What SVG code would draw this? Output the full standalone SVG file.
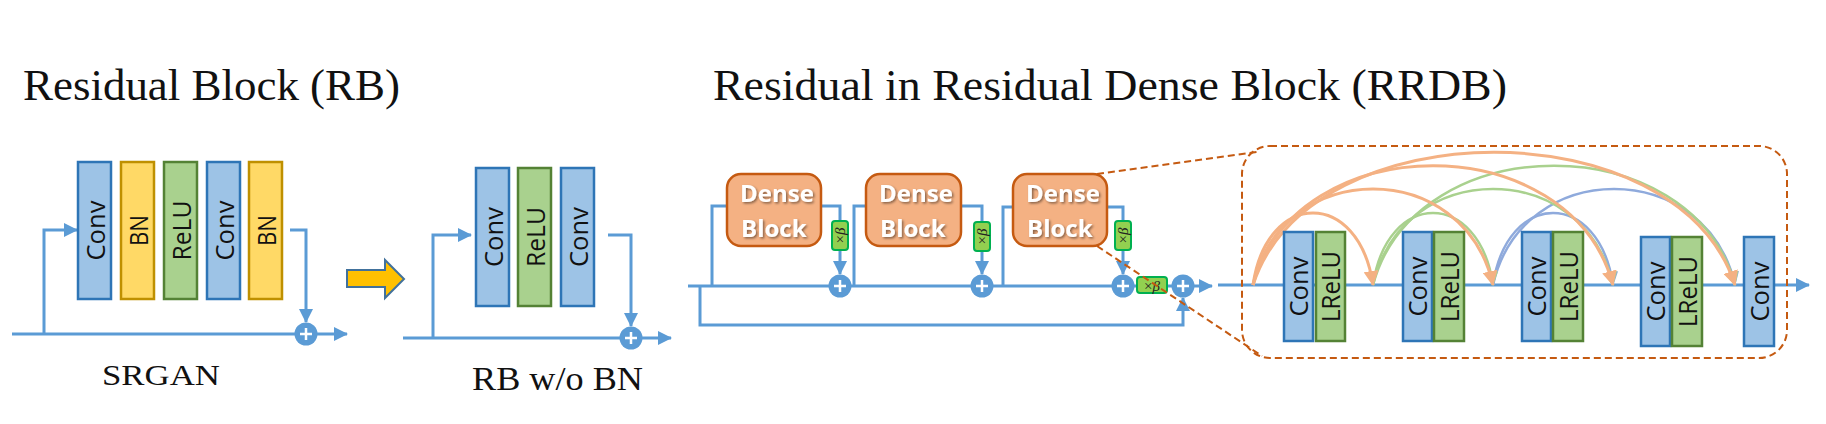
<svg xmlns="http://www.w3.org/2000/svg" width="1826" height="424" viewBox="0 0 1826 424">
<style>
.title{font-family:"Liberation Serif",serif;fill:#111;}
.lbl{font-family:"Open Sans","Noto Sans",sans-serif;font-size:26px;fill:#111;text-anchor:middle;}
.conv{fill:#9DC3E6;stroke:#2E75B6;stroke-width:2.5;}
.bn{fill:#FFD966;stroke:#BF9000;stroke-width:2.5;}
.relu{fill:#A9D18E;stroke:#548235;stroke-width:2.5;}
.ln{fill:none;stroke:#5B9BD5;stroke-width:3;}
.plus circle{fill:#5B9BD5;}
.plus path{stroke:#fff;stroke-width:2.5;fill:none;}
.db rect{fill:#F4B183;stroke:#C55A11;stroke-width:2.5;}
.db text{font-family:"Open Sans","Noto Sans",sans-serif;font-weight:bold;font-size:24px;fill:#fff;filter:url(#ts);}
.beta rect{fill:#92D050;stroke:#00B050;stroke-width:2;}
.beta text{font-family:"Liberation Serif",serif;font-size:15px;fill:#222;text-anchor:middle;}
.dash{fill:none;stroke:#C55A11;stroke-width:2;stroke-dasharray:7 4;}
.arcO{fill:none;stroke:#F4B183;stroke-width:3;}
.arcG{fill:none;stroke:#A9D18E;stroke-width:2.5;}
.arcB{fill:none;stroke:#8FAADC;stroke-width:2.5;}
</style>
<defs>
<filter id="ts" x="-20%" y="-20%" width="140%" height="140%"><feDropShadow dx="1.5" dy="1.5" stdDeviation="0.8" flood-color="#000" flood-opacity="0.45"/></filter>
<marker id="ab" markerUnits="userSpaceOnUse" markerWidth="14" markerHeight="14" viewBox="0 0 14 14" refX="13" refY="7" orient="auto"><path d="M0,0 L14,7 L0,14 Z" fill="#5B9BD5"/></marker>
<marker id="ao" markerUnits="userSpaceOnUse" markerWidth="15" markerHeight="15" viewBox="0 0 15 15" refX="14" refY="7.5" orient="auto"><path d="M0,0 L15,7.5 L0,15 Z" fill="#F4B183"/></marker>
<marker id="ag" markerUnits="userSpaceOnUse" markerWidth="14" markerHeight="14" viewBox="0 0 14 14" refX="13" refY="7" orient="auto"><path d="M0,0 L14,7 L0,14 Z" fill="#A9D18E"/></marker>
<marker id="abl" markerUnits="userSpaceOnUse" markerWidth="14" markerHeight="14" viewBox="0 0 14 14" refX="13" refY="7" orient="auto"><path d="M0,0 L14,7 L0,14 Z" fill="#8FAADC"/></marker>
</defs>

<g id="titles">
<text class="title" x="23" y="100" font-size="45" textLength="377" lengthAdjust="spacingAndGlyphs">Residual Block (RB)</text>
<text class="title" x="713" y="100" font-size="45" textLength="794" lengthAdjust="spacingAndGlyphs">Residual in Residual Dense Block (RRDB)</text>
<text class="title" x="102" y="385" font-size="30" textLength="118" lengthAdjust="spacingAndGlyphs">SRGAN</text>
<text class="title" x="472" y="390" font-size="33" textLength="171" lengthAdjust="spacingAndGlyphs">RB w/o BN</text>
</g>

<g id="connectors">
<path class="ln" d="M12,334 H347" marker-end="url(#ab)"/>
<path class="ln" d="M44,334 V230 H77" marker-end="url(#ab)"/>
<path class="ln" d="M290,230 H306 V322" marker-end="url(#ab)"/>
<path class="ln" d="M403,338 H671" marker-end="url(#ab)"/>
<path class="ln" d="M433,338 V235 H471" marker-end="url(#ab)"/>
<path class="ln" d="M608,235 H631 V326" marker-end="url(#ab)"/>
<path class="ln" d="M688,286 H1212" marker-end="url(#ab)"/>
<path class="ln" d="M700,286 V325 H1183 V298" marker-end="url(#ab)"/>
<path class="ln" d="M712,286 V206 H727"/>
<path class="ln" d="M821,206 H840 V221"/>
<path class="ln" d="M840,250 V274" marker-end="url(#ab)"/>
<path class="ln" d="M854,286 V206 H866"/>
<path class="ln" d="M961,206 H982 V222"/>
<path class="ln" d="M982,251 V274" marker-end="url(#ab)"/>
<path class="ln" d="M1003,286 V207 H1013"/>
<path class="ln" d="M1107,207 H1123 V221"/>
<path class="ln" d="M1123,250 V274" marker-end="url(#ab)"/>
<path class="ln" d="M1218,285 H1809" marker-end="url(#ab)"/>
<path class="arcB" d="M1493,285 C1507,189 1599,189 1613,285" marker-end="url(#abl)"/>
<path class="arcB" d="M1493,285 C1522,157 1706,157 1735,285" marker-end="url(#abl)"/>
<path class="arcG" d="M1373,285 C1387,189 1479,189 1493,285" marker-end="url(#ag)"/>
<path class="arcG" d="M1373,285 C1402,157 1584,157 1613,285" marker-end="url(#ag)"/>
<path class="arcG" d="M1373,285 C1416,126 1692,126 1735,285" marker-end="url(#ag)"/>
<path class="arcO" d="M1253,285 C1267,189 1359,189 1373,285" marker-end="url(#ao)"/>
<path class="arcO" d="M1253,285 C1282,157 1464,157 1493,285" marker-end="url(#ao)"/>
<path class="arcO" d="M1253,285 C1296,126 1570,126 1613,285" marker-end="url(#ao)"/>
<path class="arcO" d="M1253,285 C1311,108 1677,108 1735,285" marker-end="url(#ao)"/>
</g>

<g id="srgan-block">
<g id="sr-conv1"><rect class="conv" x="78" y="162" width="33" height="137"/><text class="lbl" transform="translate(94.5,230.5) rotate(-90)" dy="10" textLength="60" lengthAdjust="spacingAndGlyphs">Conv</text></g>
<g id="sr-bn1"><rect class="bn" x="121" y="162" width="33" height="137"/><text class="lbl" transform="translate(137.5,230.5) rotate(-90)" dy="10" textLength="31" lengthAdjust="spacingAndGlyphs">BN</text></g>
<g id="sr-relu"><rect class="relu" x="164" y="162" width="33" height="137"/><text class="lbl" transform="translate(180.5,230.5) rotate(-90)" dy="10" textLength="60" lengthAdjust="spacingAndGlyphs">ReLU</text></g>
<g id="sr-conv2"><rect class="conv" x="207" y="162" width="33" height="137"/><text class="lbl" transform="translate(223.5,230.5) rotate(-90)" dy="10" textLength="60" lengthAdjust="spacingAndGlyphs">Conv</text></g>
<g id="sr-bn2"><rect class="bn" x="249" y="162" width="33" height="137"/><text class="lbl" transform="translate(265.5,230.5) rotate(-90)" dy="10" textLength="31" lengthAdjust="spacingAndGlyphs">BN</text></g>
<g id="sr-plus" class="plus"><circle cx="306" cy="334" r="11.5"/><path d="M300,334 H312 M306,328 V340"/></g>
</g>

<g id="big-arrow"><polygon points="347,270 385,270 385,260 404,279 385,298 385,287 347,287" fill="#FFC000" stroke="#41719C" stroke-width="2"/></g>

<g id="rb-nobn">
<g id="rb-conv1"><rect class="conv" x="476" y="168" width="33" height="138"/><text class="lbl" transform="translate(492.5,237) rotate(-90)" dy="10" textLength="60" lengthAdjust="spacingAndGlyphs">Conv</text></g>
<g id="rb-relu"><rect class="relu" x="518" y="168" width="33" height="138"/><text class="lbl" transform="translate(534.5,237) rotate(-90)" dy="10" textLength="60" lengthAdjust="spacingAndGlyphs">ReLU</text></g>
<g id="rb-conv2"><rect class="conv" x="561" y="168" width="33" height="138"/><text class="lbl" transform="translate(577.5,237) rotate(-90)" dy="10" textLength="60" lengthAdjust="spacingAndGlyphs">Conv</text></g>
<g id="rb-plus" class="plus"><circle cx="631" cy="338" r="11.5"/><path d="M625,338 H637 M631,332 V344"/></g>
</g>

<g id="rrdb">
<g id="db1" class="db"><rect x="727" y="174" width="94" height="72" rx="14"/><text x="740" y="202">Dense</text><text x="741" y="237">Block</text></g>
<g id="db2" class="db"><rect x="866" y="174" width="95" height="72" rx="14"/><text x="879" y="202">Dense</text><text x="880" y="237">Block</text></g>
<g id="db3" class="db"><rect x="1013" y="174" width="94" height="72" rx="14"/><text x="1026" y="202">Dense</text><text x="1027" y="237">Block</text></g>
<g id="beta1" class="beta"><rect x="832" y="221" width="16" height="29" rx="3"/><text transform="translate(840,235.5) rotate(-90)" dy="5">×<tspan font-style="italic">β</tspan></text></g>
<g id="beta2" class="beta"><rect x="974" y="222" width="16" height="29" rx="3"/><text transform="translate(982,236.5) rotate(-90)" dy="5">×<tspan font-style="italic">β</tspan></text></g>
<g id="beta3" class="beta"><rect x="1115" y="221" width="16" height="29" rx="3"/><text transform="translate(1123,235.5) rotate(-90)" dy="5">×<tspan font-style="italic">β</tspan></text></g>
<g id="plus1" class="plus"><circle cx="840" cy="286" r="11.5"/><path d="M834,286 H846 M840,280 V292"/></g>
<g id="plus2" class="plus"><circle cx="982" cy="286" r="11.5"/><path d="M976,286 H988 M982,280 V292"/></g>
<g id="plus3" class="plus"><circle cx="1123" cy="286" r="11.5"/><path d="M1117,286 H1129 M1123,280 V292"/></g>
<g id="beta4" class="beta"><rect x="1137" y="277" width="30" height="16" rx="3"/><text x="1152" y="290.5">×<tspan font-style="italic">β</tspan></text></g>
<g id="plus4" class="plus"><circle cx="1183" cy="286" r="11.5"/><path d="M1177,286 H1189 M1183,280 V292"/></g>
</g>

<g id="zoom-lines">
<path class="dash" d="M1097,174 L1257,152"/>
<path class="dash" d="M1097,246 L1262,356"/>
<rect id="rdb-outline" class="dash" x="1242" y="146" width="545" height="212" rx="28"/>
</g>

<g id="rdb">
<g id="c1"><rect class="conv" x="1284" y="232" width="29" height="109"/><text class="lbl" transform="translate(1298.5,286.5) rotate(-90)" dy="9.5" textLength="60" lengthAdjust="spacingAndGlyphs">Conv</text></g>
<g id="l1"><rect class="relu" x="1316" y="232" width="29" height="109"/><text class="lbl" transform="translate(1330.5,286.5) rotate(-90)" dy="9.5" textLength="71" lengthAdjust="spacingAndGlyphs">LReLU</text></g>
<g id="c2"><rect class="conv" x="1403" y="232" width="29" height="109"/><text class="lbl" transform="translate(1417.5,286.5) rotate(-90)" dy="9.5" textLength="60" lengthAdjust="spacingAndGlyphs">Conv</text></g>
<g id="l2"><rect class="relu" x="1434" y="232" width="30" height="109"/><text class="lbl" transform="translate(1449,286.5) rotate(-90)" dy="9.5" textLength="71" lengthAdjust="spacingAndGlyphs">LReLU</text></g>
<g id="c3"><rect class="conv" x="1522" y="232" width="29" height="109"/><text class="lbl" transform="translate(1536.5,286.5) rotate(-90)" dy="9.5" textLength="60" lengthAdjust="spacingAndGlyphs">Conv</text></g>
<g id="l3"><rect class="relu" x="1553" y="232" width="30" height="109"/><text class="lbl" transform="translate(1568,286.5) rotate(-90)" dy="9.5" textLength="71" lengthAdjust="spacingAndGlyphs">LReLU</text></g>
<g id="c4"><rect class="conv" x="1641" y="237" width="29" height="109"/><text class="lbl" transform="translate(1655.5,291.5) rotate(-90)" dy="9.5" textLength="60" lengthAdjust="spacingAndGlyphs">Conv</text></g>
<g id="l4"><rect class="relu" x="1672" y="237" width="30" height="109"/><text class="lbl" transform="translate(1687,291.5) rotate(-90)" dy="9.5" textLength="71" lengthAdjust="spacingAndGlyphs">LReLU</text></g>
<g id="c5"><rect class="conv" x="1744" y="237" width="30" height="109"/><text class="lbl" transform="translate(1759,291.5) rotate(-90)" dy="9.5" textLength="60" lengthAdjust="spacingAndGlyphs">Conv</text></g>
</g>
</svg>
